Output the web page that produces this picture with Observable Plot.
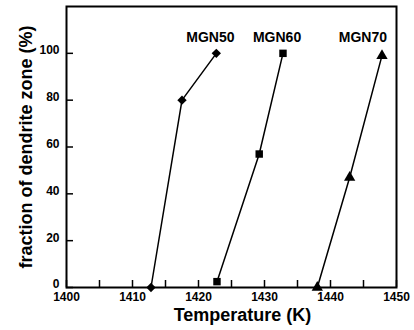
<!DOCTYPE html>
<html><head><meta charset="utf-8">
<script src="https://cdn.jsdelivr.net/npm/d3@7"></script>
<script src="https://cdn.jsdelivr.net/npm/@observablehq/plot@0.6"></script>
<style>body{margin:0;background:#fff}</style>
</head><body><div id="chart"></div>
<script>
const seriesNames = ["MGN50", "MGN60", "MGN70"];
const symbols = ["diamond2", "square", "triangle"];
const mgn50Temp = [1412.8, 1417.5, 1422.7];
const mgn50Frac = [0, 80, 100];
const mgn60Temp = [1422.8, 1429.2, 1432.8];
const mgn60Frac = [2.5, 57, 100];
const mgn70Temp = [1438.0, 1442.9, 1447.8];
const mgn70Frac = [0, 47, 99];
const labelTemp = [1421.8, 1431.9, 1444.9];
const labelFrac = [106.6, 106.6, 106.6];
const xMajorTicks = [1400, 1410, 1420, 1430, 1440, 1450];
const xMinorTicks = [1405, 1415, 1425, 1435, 1445];
const yTicks = [0, 20, 40, 60, 80, 100];

const temps = [mgn50Temp, mgn60Temp, mgn70Temp];
const fracs = [mgn50Frac, mgn60Frac, mgn70Frac];
const data = seriesNames.flatMap((s, i) => temps[i].map((t, j) => ({series: s, symbol: symbols[i], t, f: fracs[i][j]})));
const labels = seriesNames.map((s, i) => ({text: s, t: labelTemp[i], f: labelFrac[i]}));

const chart = Plot.plot({
  width: 414, height: 330,
  marginLeft: 66, marginRight: 18, marginTop: 6, marginBottom: 43,
  style: {fontFamily: "'Liberation Sans', Arial, sans-serif", fontWeight: "bold", color: "#000", background: "#fff"},
  x: {domain: [1400, 1450]},
  y: {domain: [0, 120]},
  symbol: {type: "identity"},
  marks: [
    Plot.axisX(xMajorTicks, {tickSize: 0, tickPadding: 5, fontSize: 12, fontWeight: "bold", label: null, tickFormat: d => String(d)}),
    Plot.axisX(xMajorTicks.concat(xMinorTicks), {tickSize: -7, text: null, label: null, strokeWidth: 1.5}),
    Plot.axisY(yTicks, {tickSize: 0, tickPadding: 7, fontSize: 12, fontWeight: "bold", label: null, tickFormat: d => String(d), dy: -3}),
    Plot.axisY(yTicks, {tickSize: -7, text: null, label: null, strokeWidth: 1.5}),
    Plot.frame({stroke: "#000", strokeWidth: 2}),
    Plot.line(data, {x: "t", y: "f", z: "series", stroke: "#000", strokeWidth: 1.5}),
    Plot.dot(data, {x: "t", y: "f", symbol: "symbol", fill: "#000", stroke: "none", r: 4.2}),
    Plot.text(labels, {x: "t", y: "f", text: "text", fontSize: 14, fontWeight: "bold", fill: "#000"}),
    Plot.text(["Temperature (K)"], {frameAnchor: "bottom", textAnchor: "middle", dx: 11, dy: 33, fontSize: 18, fontWeight: "bold", fill: "#000"}),
    Plot.text(["fraction of dendrite zone (%)"], {frameAnchor: "left", textAnchor: "middle", dx: -40, rotate: -90, fontSize: 18, fontWeight: "bold", fill: "#000"})
  ]
});
document.getElementById("chart").appendChild(chart);
</script>
</body></html>
